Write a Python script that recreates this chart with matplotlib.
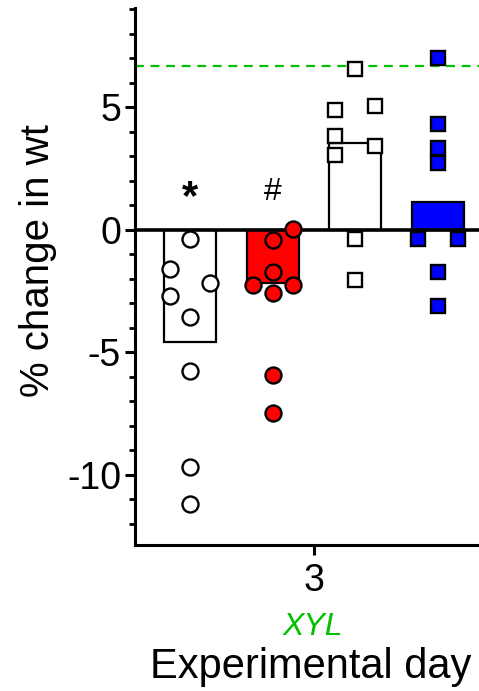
import matplotlib
matplotlib.use("Agg")
import matplotlib.pyplot as plt
from matplotlib.ticker import MultipleLocator

plt.rcParams['font.family'] = ['Liberation Sans', 'DejaVu Sans']

# ---- data ----
group_names = ["G1", "G2", "G3", "G4"]
bar_values = [-4.6, -2.19, 3.55, 1.12]
points_g1 = [-0.38, -1.62, -2.19, -2.71, -3.58, -5.77, -9.67, -11.2]
points_g2 = [0.02, -0.42, -1.74, -2.26, -2.26, -2.57, -5.93, -7.49]
points_g3 = [6.56, 4.89, 5.06, 3.82, 3.05, 3.42, -0.38, -2.05]
points_g4 = [7.02, 4.3, 3.32, 2.71, -0.38, -0.38, -1.74, -3.1]
offsets_g1 = [0, -1, 1, -1, 0, 0, 0, 0]
offsets_g2 = [1, 0, 0, -1, 1, 0, 0, 0]
offsets_g3 = [0, -1, 1, -1, -1, 1, 0, 0]
offsets_g4 = [0, 0, 0, 0, -1, 1, 0, 0]
reference_line = 6.68
star_labels = ["*", "#", "", ""]
star_y = [1.3, 1.55]
x_tick_label = "3"
y_ticks = [-10, -5, 0, 5]

bar_faces = ["white", "#ff0000", "white", "#0000ff"]
marker_shapes = ["o", "o", "s", "s"]
marker_faces = ["white", "#ff0000", "white", "#0000ff"]
green = "#00c000"

fig = plt.figure(figsize=(4.79, 6.91), dpi=100)
ax = fig.add_axes([135/479, 1-545/691, 1-135/479, (545-8)/691])

xs = list(range(len(group_names)))
ax.bar(xs, bar_values, width=0.63, color=bar_faces, edgecolor="black",
       linewidth=1.6, zorder=2)

all_points = [points_g1, points_g2, points_g3, points_g4]
all_offsets = [offsets_g1, offsets_g2, offsets_g3, offsets_g4]
dx = 0.24
for i, (pts, offs) in enumerate(zip(all_points, all_offsets)):
    ax.plot([xs[i] + o*dx for o in offs], pts, linestyle="none",
            marker=marker_shapes[i], markersize=11.5 if marker_shapes[i] == "o" else 10.5,
            markerfacecolor=marker_faces[i], markeredgecolor="black",
            markeredgewidth=1.7, zorder=4, clip_on=False)

ax.axhline(0, color="black", linewidth=2.6, zorder=3)
ax.axhline(reference_line, color=green, linewidth=1.6, linestyle=(0, (4, 3)), zorder=1)

ax.text(xs[0], star_y[0], star_labels[0], ha="center", va="center", fontsize=30,
        fontweight="bold")
ax.text(xs[1], star_y[1], star_labels[1], ha="center", va="center", fontsize=23)

ax.set_xlim(-0.67, 3.5)
ax.set_ylim(-12.87, 9.05)
ax.set_yticks(y_ticks)
ax.set_yticklabels([str(v) for v in y_ticks])
ax.yaxis.set_minor_locator(MultipleLocator(1))
ax.set_xticks([1.5])
ax.set_xticklabels([x_tick_label])

for s in ["top", "right"]:
    ax.spines[s].set_visible(False)
for s in ["left", "bottom"]:
    ax.spines[s].set_linewidth(2.2)

ax.tick_params(axis="y", which="major", length=7, width=2.2, labelsize=27, pad=3)
ax.tick_params(axis="y", which="minor", length=4.5, width=2.0)
ax.tick_params(axis="x", which="major", length=7, width=2.2, labelsize=27, pad=6)

fig.text(313/479, 1-627/691, "XYL", color=green, fontsize=23, style="italic",
         ha="center", va="center")
fig.text(311/479, 1-667/691, "Experimental day", fontsize=30, ha="center", va="center")
fig.text(38/479, 1-261/691, "% change in wt", fontsize=29, rotation=90,
         ha="center", va="center")

fig.savefig("out.png", dpi=100)
